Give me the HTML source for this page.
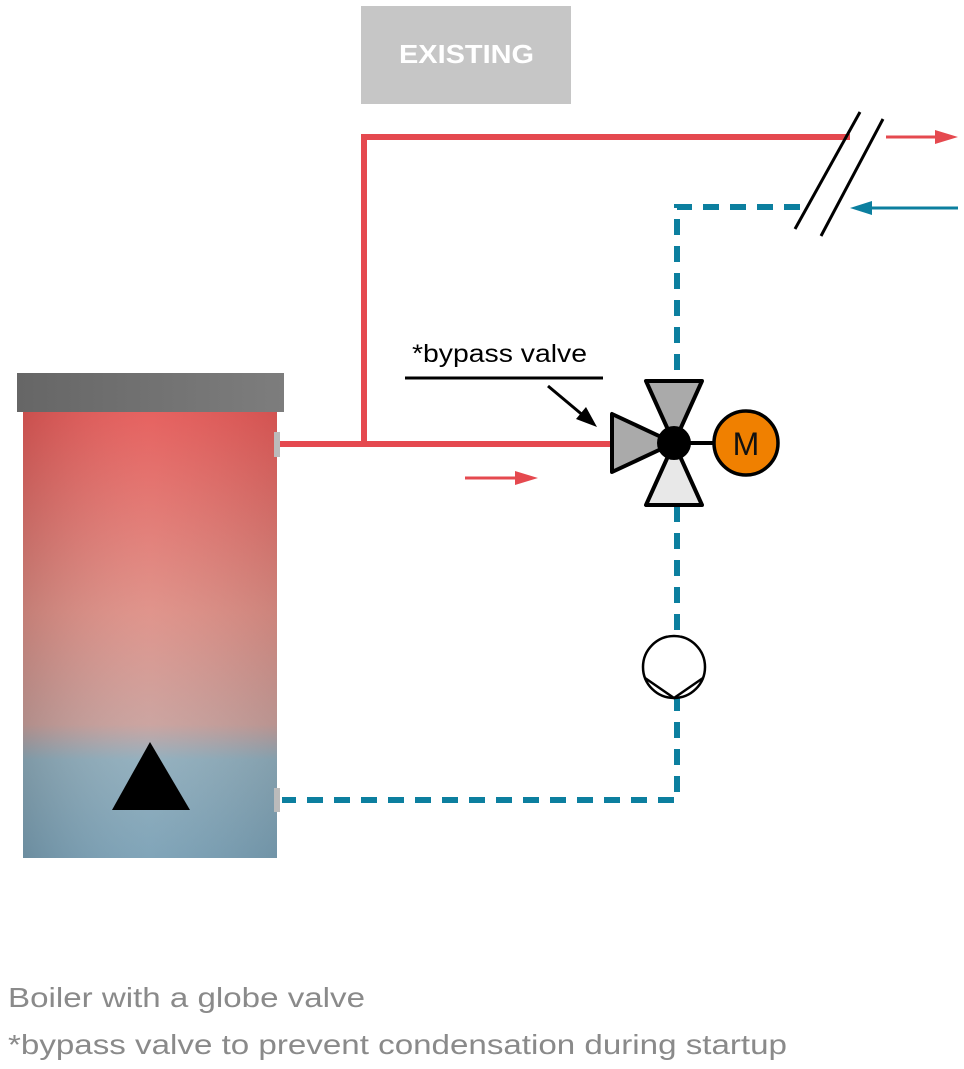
<!DOCTYPE html><html><head><style>body{margin:0;background:#fff;}svg{display:block}</style></head><body>
<svg width="964" height="1069" viewBox="0 0 964 1069" xmlns="http://www.w3.org/2000/svg">
<defs>
<linearGradient id="tank" x1="0" y1="0" x2="0" y2="1">
<stop offset="0" stop-color="#e55a58"/><stop offset="0.45" stop-color="#de8f86"/><stop offset="0.7" stop-color="#c9a09c"/><stop offset="0.78" stop-color="#8fadbc"/><stop offset="1" stop-color="#7aa0b5"/></linearGradient>
<linearGradient id="side" x1="0" y1="0" x2="1" y2="0">
<stop offset="0" stop-color="#000" stop-opacity="0.12"/><stop offset="0.5" stop-color="#fff" stop-opacity="0.05"/><stop offset="1" stop-color="#000" stop-opacity="0.08"/></linearGradient>
<linearGradient id="cap" x1="0" y1="0" x2="1" y2="0"><stop offset="0" stop-color="#666"/><stop offset="1" stop-color="#7d7d7d"/></linearGradient>
</defs>
<rect x="361" y="6" width="210" height="98" fill="#c6c6c6"/>
<text x="399" y="63" textLength="135" lengthAdjust="spacingAndGlyphs" font-family="Liberation Sans, sans-serif" font-weight="bold" font-size="26" fill="#fff">EXISTING</text>
<rect x="23" y="412" width="254" height="446" fill="url(#tank)"/>
<rect x="23" y="412" width="254" height="446" fill="url(#side)"/>
<rect x="17" y="373" width="267" height="39" fill="url(#cap)"/>
<polygon points="150,742 112,810 190,810" fill="#000"/>
<rect x="274" y="432" width="6" height="25" fill="#bbb"/>
<rect x="274" y="788" width="6" height="24" fill="#bbb"/>
<g stroke="#e5494f" stroke-width="6" fill="none">
<polyline points="280,444 612,444"/>
<polyline points="364,444 364,137 850,137"/>
</g>
<g stroke="#0c7f9f" stroke-width="6" fill="none" stroke-dasharray="16,11">
<polyline points="800,207 677,207 677,380"/>
<polyline points="677,506 677,800 282,800"/>
</g>
<line x1="795" y1="229" x2="860" y2="112" stroke="#000" stroke-width="3"/>
<line x1="821" y1="236" x2="883" y2="119" stroke="#000" stroke-width="3"/>
<line x1="886" y1="137" x2="940" y2="137" stroke="#e5494f" stroke-width="3"/><polygon points="958,137 935,130 935,144" fill="#e5494f"/>
<line x1="958" y1="208" x2="868" y2="208" stroke="#0c7f9f" stroke-width="3"/><polygon points="850,208 872,201 872,215" fill="#0c7f9f"/>
<line x1="465" y1="478" x2="520" y2="478" stroke="#e5494f" stroke-width="3"/><polygon points="538,478 515,471 515,485" fill="#e5494f"/>
<circle cx="674" cy="667" r="31" fill="#fff" stroke="#000" stroke-width="2.5"/>
<polyline points="645,678 674,698 703,678" fill="none" stroke="#000" stroke-width="2.5"/>
<g stroke="#000" stroke-width="4" stroke-linejoin="round">
<polygon points="646,381 702,381 674,443" fill="#aaa"/>
<polygon points="646,505 702,505 674,443" fill="#e8e8e8"/>
<polygon points="612,414 612,472 674,443" fill="#aaa"/>
<line x1="674" y1="443" x2="716" y2="443"/>
<circle cx="746" cy="443" r="32" fill="#f08000" stroke-width="3.5"/>
</g>
<circle cx="674" cy="443" r="17" fill="#000"/>
<text x="746" y="455" text-anchor="middle" font-family="Liberation Sans, sans-serif" font-size="32" fill="#111">M</text>
<text x="412" y="362" textLength="175" lengthAdjust="spacingAndGlyphs" font-family="Liberation Sans, sans-serif" font-size="25" fill="#000">*bypass valve</text>
<line x1="405" y1="378" x2="603" y2="378" stroke="#000" stroke-width="3"/>
<line x1="548" y1="386" x2="585" y2="417" stroke="#000" stroke-width="3"/><polygon points="597,427 576,419 586,407" fill="#000"/>
<text x="8" y="1007" textLength="357" lengthAdjust="spacingAndGlyphs" font-family="Liberation Sans, sans-serif" font-size="28" fill="#8a8a8a">Boiler with a globe valve</text>
<text x="8" y="1054" textLength="779" lengthAdjust="spacingAndGlyphs" font-family="Liberation Sans, sans-serif" font-size="28" fill="#8a8a8a">*bypass valve to prevent condensation during startup</text>
</svg>
</body></html>
